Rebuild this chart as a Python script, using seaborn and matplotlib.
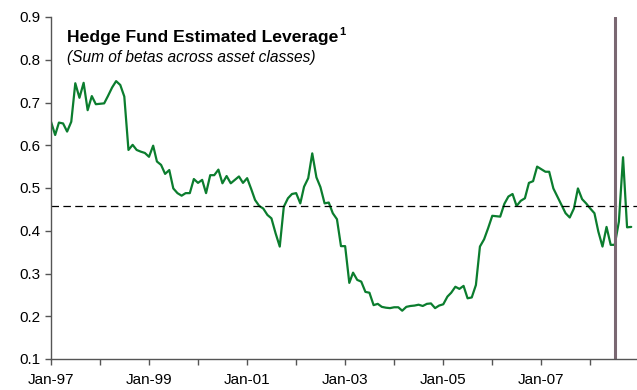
import pandas as pd
import seaborn as sns
import matplotlib.pyplot as plt
import matplotlib.dates as mdates
from matplotlib.ticker import FormatStrFormatter, FixedLocator

# monthly leverage readings, Jan-97 onwards
start_month = "1997-01-01"
leverage = [
    0.655, 0.624, 0.653, 0.651, 0.632, 0.655, 0.745, 0.711, 0.746, 0.682,
    0.715, 0.696, 0.697, 0.698, 0.715, 0.735, 0.750, 0.741, 0.714, 0.589,
    0.601, 0.589, 0.585, 0.582, 0.573, 0.599, 0.562, 0.554, 0.533, 0.542,
    0.499, 0.488, 0.482, 0.488, 0.488, 0.521, 0.512, 0.519, 0.488, 0.530,
    0.530, 0.543, 0.511, 0.528, 0.511, 0.519, 0.527, 0.512, 0.523, 0.497,
    0.472, 0.458, 0.452, 0.437, 0.429, 0.394, 0.363, 0.456, 0.476, 0.486,
    0.488, 0.464, 0.503, 0.523, 0.581, 0.525, 0.502, 0.464, 0.466, 0.441,
    0.427, 0.364, 0.364, 0.278, 0.302, 0.285, 0.281, 0.257, 0.255, 0.226,
    0.229, 0.222, 0.220, 0.219, 0.221, 0.221, 0.213, 0.222, 0.224, 0.225,
    0.227, 0.224, 0.229, 0.230, 0.219, 0.225, 0.228, 0.246, 0.255, 0.269,
    0.264, 0.271, 0.242, 0.244, 0.273, 0.363, 0.380, 0.406, 0.435, 0.434,
    0.433, 0.463, 0.480, 0.486, 0.458, 0.470, 0.476, 0.512, 0.516, 0.550,
    0.544, 0.538, 0.538, 0.499, 0.480, 0.460, 0.441, 0.431, 0.452, 0.499,
    0.474, 0.464, 0.452, 0.441, 0.398, 0.363, 0.409, 0.367, 0.367, 0.421,
    0.572, 0.408, 0.409,
]
average_level = 0.458
marker_date = "2008-07-01"
label_years = [1997, 1999, 2001, 2003, 2005, 2007]
tick_years = list(range(1997, 2009))

title = "Hedge Fund Estimated Leverage"
subtitle = "(Sum of betas across asset classes)"

df = pd.DataFrame({
    "date": pd.date_range(start_month, periods=len(leverage), freq="MS"),
    "leverage": leverage,
})

sns.set_theme(style="ticks")
plt.rcParams["font.family"] = ["Liberation Sans", "DejaVu Sans"]
plt.rcParams["text.color"] = "black"

fig = plt.figure(figsize=(6.37, 3.9), dpi=100)
ax = fig.add_axes([51 / 637, 1 - 359 / 390, 1 - 51 / 637, (359 - 17) / 390])

sns.lineplot(data=df, x="date", y="leverage", ax=ax, color="#0b7d2e", linewidth=1.6)
ax.axhline(average_level, color="black", linewidth=0.9, linestyle=(0, (6, 3.5)))
ax.axvline(pd.Timestamp(marker_date), color="#7a6872", linewidth=2.2)

ax.set_ylim(0.1, 0.9)
ax.set_yticks([0.1, 0.2, 0.3, 0.4, 0.5, 0.6, 0.7, 0.8, 0.9])
ax.yaxis.set_major_formatter(FormatStrFormatter("%.1f"))
ax.set_xlim(pd.Timestamp("1997-01-01"), pd.Timestamp("2008-12-14"))
ax.xaxis.set_major_locator(FixedLocator(
    [mdates.date2num(pd.Timestamp(f"{y}-01-01")) for y in label_years]))
ax.xaxis.set_minor_locator(FixedLocator(
    [mdates.date2num(pd.Timestamp(f"{y}-01-01")) for y in tick_years]))
ax.xaxis.set_major_formatter(mdates.DateFormatter("%b-%y"))
ax.set_xlabel("")
ax.set_ylabel("")

for side in ["top", "right"]:
    ax.spines[side].set_visible(False)
for side in ["left", "bottom"]:
    ax.spines[side].set_color("#555555")
    ax.spines[side].set_linewidth(1.0)
ax.tick_params(axis="both", which="both", length=4, width=1.0, color="#555555",
               labelsize=11, labelcolor="black")
ax.tick_params(axis="x", pad=6)

t = fig.text(67 / 637, 1 - 41.7 / 390, title, fontsize=12.6, fontweight="bold",
             va="baseline", ha="left", color="black")
fig.text(67 / 637, 1 - 62 / 390, subtitle, fontsize=11.2, fontstyle="italic",
         va="baseline", ha="left", color="black")
fig.canvas.draw()
bb = t.get_window_extent().transformed(fig.transFigure.inverted())
fig.text(bb.x1 + 0.002, 1 - 35 / 390, "1", fontsize=8, fontweight="bold",
         va="baseline", ha="left", color="black")

fig.savefig("out.png", dpi=100)
